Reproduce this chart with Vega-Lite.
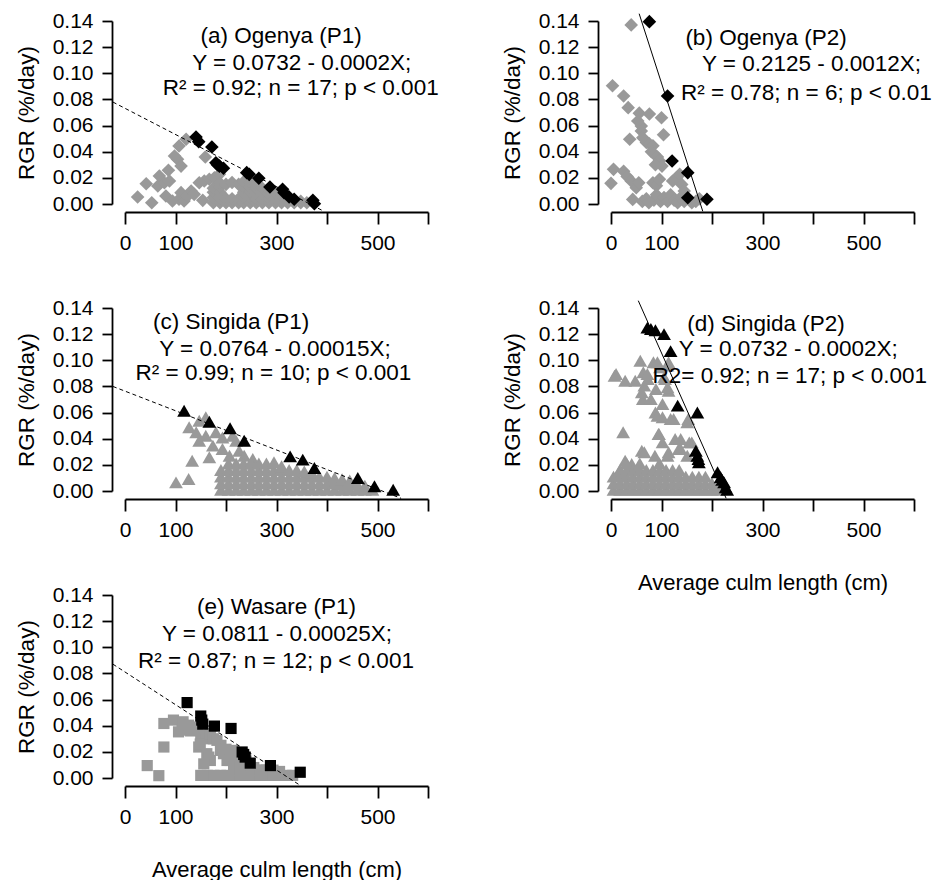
{
"$schema": "https://vega.github.io/schema/vega-lite/v6.json",
"padding": {"left": 15, "top": 10, "right": 0, "bottom": 0},
"background": "white",
"datasets": {
"pts": [
{"p":"a","g":"gray","x":25,"y":0.0054},{"p":"a","g":"gray","x":42,"y":0.0155},{"p":"a","g":"gray","x":53,"y":0.001},{"p":"a","g":"gray","x":65,"y":0.0138},{"p":"a","g":"gray","x":68,"y":0.0214},{"p":"a","g":"gray","x":78,"y":0.0163},{"p":"a","g":"gray","x":81,"y":0.0061},{"p":"a","g":"gray","x":86,"y":0.0258},{"p":"a","g":"gray","x":88,"y":0.0176},{"p":"a","g":"gray","x":94,"y":0.0023},{"p":"a","g":"gray","x":98,"y":0.0367},{"p":"a","g":"gray","x":104,"y":0.0342},{"p":"a","g":"gray","x":107,"y":0.0444},{"p":"a","g":"gray","x":111,"y":0.029},{"p":"a","g":"gray","x":107,"y":0.0036},{"p":"a","g":"gray","x":111,"y":0.0087},{"p":"a","g":"gray","x":117,"y":0.0023},{"p":"a","g":"gray","x":121,"y":0.0495},{"p":"a","g":"gray","x":124,"y":0.0061},{"p":"a","g":"gray","x":131,"y":0.0099},{"p":"a","g":"gray","x":137,"y":0.0074},{"p":"a","g":"gray","x":154,"y":0.0028},{"p":"a","g":"gray","x":159,"y":0.036},{"p":"a","g":"gray","x":147,"y":0.0163},{"p":"a","g":"gray","x":157,"y":0.0176},{"p":"a","g":"gray","x":167,"y":0.0189},{"p":"a","g":"gray","x":177,"y":0.0201},{"p":"a","g":"gray","x":187,"y":0.0227},
{"p":"a","g":"gray","x":175,"y":0.001},{"p":"a","g":"gray","x":175,"y":0.005},{"p":"a","g":"gray","x":175,"y":0.009},{"p":"a","g":"gray","x":175,"y":0.012},
{"p":"a","g":"gray","x":188,"y":0.001},{"p":"a","g":"gray","x":188,"y":0.005},{"p":"a","g":"gray","x":188,"y":0.009},{"p":"a","g":"gray","x":188,"y":0.013},{"p":"a","g":"gray","x":188,"y":0.016},
{"p":"a","g":"gray","x":200,"y":0.001},{"p":"a","g":"gray","x":200,"y":0.004},{"p":"a","g":"gray","x":200,"y":0.015},
{"p":"a","g":"gray","x":212,"y":0.001},{"p":"a","g":"gray","x":212,"y":0.004},{"p":"a","g":"gray","x":212,"y":0.0165},
{"p":"a","g":"gray","x":225,"y":0.001},{"p":"a","g":"gray","x":225,"y":0.004},{"p":"a","g":"gray","x":225,"y":0.015},
{"p":"a","g":"gray","x":235,"y":0.001},{"p":"a","g":"gray","x":235,"y":0.005},{"p":"a","g":"gray","x":235,"y":0.009},{"p":"a","g":"gray","x":235,"y":0.013},{"p":"a","g":"gray","x":235,"y":0.017},
{"p":"a","g":"gray","x":248,"y":0.001},{"p":"a","g":"gray","x":248,"y":0.005},{"p":"a","g":"gray","x":248,"y":0.009},{"p":"a","g":"gray","x":248,"y":0.013},{"p":"a","g":"gray","x":248,"y":0.016},
{"p":"a","g":"gray","x":260,"y":0.001},{"p":"a","g":"gray","x":260,"y":0.004},{"p":"a","g":"gray","x":260,"y":0.008},{"p":"a","g":"gray","x":260,"y":0.012},{"p":"a","g":"gray","x":260,"y":0.015},
{"p":"a","g":"gray","x":272,"y":0.001},{"p":"a","g":"gray","x":272,"y":0.004},{"p":"a","g":"gray","x":272,"y":0.008},{"p":"a","g":"gray","x":272,"y":0.012},
{"p":"a","g":"gray","x":285,"y":0.001},{"p":"a","g":"gray","x":285,"y":0.004},{"p":"a","g":"gray","x":285,"y":0.008},{"p":"a","g":"gray","x":285,"y":0.011},
{"p":"a","g":"gray","x":298,"y":0.001},{"p":"a","g":"gray","x":298,"y":0.004},{"p":"a","g":"gray","x":298,"y":0.008},
{"p":"a","g":"gray","x":310,"y":0.001},{"p":"a","g":"gray","x":310,"y":0.004},{"p":"a","g":"gray","x":310,"y":0.007},
{"p":"a","g":"gray","x":322,"y":0.001},{"p":"a","g":"gray","x":322,"y":0.004},
{"p":"a","g":"gray","x":335,"y":0.001},{"p":"a","g":"gray","x":335,"y":0.003},
{"p":"a","g":"gray","x":348,"y":0.001},{"p":"a","g":"gray","x":348,"y":0.002},
{"p":"a","g":"gray","x":360,"y":0.001},
{"p":"a","g":"black","x":140.6,"y":0.0513},{"p":"a","g":"black","x":146,"y":0.0477},{"p":"a","g":"black","x":172,"y":0.0436},{"p":"a","g":"black","x":180,"y":0.0316},{"p":"a","g":"black","x":183,"y":0.03},{"p":"a","g":"black","x":187,"y":0.029},{"p":"a","g":"black","x":195,"y":0.0273},{"p":"a","g":"black","x":241,"y":0.024},{"p":"a","g":"black","x":246,"y":0.0227},{"p":"a","g":"black","x":265,"y":0.0197},{"p":"a","g":"black","x":287,"y":0.013},{"p":"a","g":"black","x":312,"y":0.0112},{"p":"a","g":"black","x":315,"y":0.0087},{"p":"a","g":"black","x":325,"y":0.0054},{"p":"a","g":"black","x":335,"y":0.0036},{"p":"a","g":"black","x":372,"y":0.0028},{"p":"a","g":"black","x":375,"y":0.0002},

{"p":"b","g":"gray","x":40,"y":0.137},{"p":"b","g":"gray","x":3,"y":0.0905},{"p":"b","g":"gray","x":25,"y":0.0826},{"p":"b","g":"gray","x":34,"y":0.0737},{"p":"b","g":"gray","x":56,"y":0.0695},{"p":"b","g":"gray","x":76,"y":0.0688},{"p":"b","g":"gray","x":100,"y":0.066},{"p":"b","g":"gray","x":53,"y":0.0635},{"p":"b","g":"gray","x":60,"y":0.0597},{"p":"b","g":"gray","x":104,"y":0.053},{"p":"b","g":"gray","x":60,"y":0.0558},{"p":"b","g":"gray","x":63,"y":0.0507},{"p":"b","g":"gray","x":37,"y":0.0495},{"p":"b","g":"gray","x":70,"y":0.047},{"p":"b","g":"gray","x":76,"y":0.046},{"p":"b","g":"gray","x":83,"y":0.0445},{"p":"b","g":"gray","x":80,"y":0.04},{"p":"b","g":"gray","x":86,"y":0.038},{"p":"b","g":"gray","x":92,"y":0.036},{"p":"b","g":"gray","x":96,"y":0.033},{"p":"b","g":"gray","x":101,"y":0.029},{"p":"b","g":"gray","x":88,"y":0.03},{"p":"b","g":"gray","x":5,"y":0.0265},{"p":"b","g":"gray","x":0,"y":0.0158},{"p":"b","g":"gray","x":25,"y":0.025},{"p":"b","g":"gray","x":32,"y":0.021},{"p":"b","g":"gray","x":40,"y":0.0176},{"p":"b","g":"gray","x":50,"y":0.0125},{"p":"b","g":"gray","x":55,"y":0.0163},{"p":"b","g":"gray","x":83,"y":0.0163},{"p":"b","g":"gray","x":90,"y":0.014},{"p":"b","g":"gray","x":96,"y":0.0189},{"p":"b","g":"gray","x":122,"y":0.0176},{"p":"b","g":"gray","x":130,"y":0.02},{"p":"b","g":"gray","x":136,"y":0.0227},{"p":"b","g":"gray","x":140,"y":0.015},{"p":"b","g":"gray","x":145,"y":0.01},{"p":"b","g":"gray","x":43,"y":0.0035},
{"p":"b","g":"gray","x":62,"y":0.002},{"p":"b","g":"gray","x":70,"y":0.004},{"p":"b","g":"gray","x":75,"y":0.001},{"p":"b","g":"gray","x":85,"y":0.003},{"p":"b","g":"gray","x":90,"y":0.007},{"p":"b","g":"gray","x":98,"y":0.002},{"p":"b","g":"gray","x":105,"y":0.005},{"p":"b","g":"gray","x":112,"y":0.002},{"p":"b","g":"gray","x":118,"y":0.007},{"p":"b","g":"gray","x":125,"y":0.003},{"p":"b","g":"gray","x":132,"y":0.001},{"p":"b","g":"gray","x":138,"y":0.005},{"p":"b","g":"gray","x":145,"y":0.002},{"p":"b","g":"gray","x":160,"y":0.001},{"p":"b","g":"gray","x":168,"y":0.002},{"p":"b","g":"gray","x":175,"y":0.004},
{"p":"b","g":"black","x":76,"y":0.1395},{"p":"b","g":"black","x":112,"y":0.0826},{"p":"b","g":"black","x":121,"y":0.0329},{"p":"b","g":"black","x":152,"y":0.024},{"p":"b","g":"black","x":152,"y":0.0048},{"p":"b","g":"black","x":190,"y":0.0036},

{"p":"c","g":"gray","x":101,"y":0.0066},{"p":"c","g":"gray","x":126,"y":0.0092},{"p":"c","g":"gray","x":133,"y":0.0232},{"p":"c","g":"gray","x":127,"y":0.0487},{"p":"c","g":"gray","x":147,"y":0.0538},{"p":"c","g":"gray","x":160,"y":0.0564},{"p":"c","g":"gray","x":141,"y":0.0449},{"p":"c","g":"gray","x":160,"y":0.0423},{"p":"c","g":"gray","x":180,"y":0.0449},{"p":"c","g":"gray","x":193,"y":0.041},{"p":"c","g":"gray","x":213,"y":0.0423},{"p":"c","g":"gray","x":220,"y":0.0385},{"p":"c","g":"gray","x":147,"y":0.0385},{"p":"c","g":"gray","x":174,"y":0.0347},{"p":"c","g":"gray","x":167,"y":0.0258},{"p":"c","g":"gray","x":193,"y":0.0321},{"p":"c","g":"gray","x":207,"y":0.027},{"p":"c","g":"gray","x":226,"y":0.0308},{"p":"c","g":"gray","x":236,"y":0.027},{"p":"c","g":"gray","x":253,"y":0.0245},
{"p":"c","g":"gray","x":190,"y":0.001},{"p":"c","g":"gray","x":190,"y":0.006},{"p":"c","g":"gray","x":190,"y":0.011},{"p":"c","g":"gray","x":190,"y":0.016},
{"p":"c","g":"gray","x":205,"y":0.001},{"p":"c","g":"gray","x":205,"y":0.006},{"p":"c","g":"gray","x":205,"y":0.011},{"p":"c","g":"gray","x":205,"y":0.016},{"p":"c","g":"gray","x":205,"y":0.021},
{"p":"c","g":"gray","x":220,"y":0.001},{"p":"c","g":"gray","x":220,"y":0.006},{"p":"c","g":"gray","x":220,"y":0.011},{"p":"c","g":"gray","x":220,"y":0.016},{"p":"c","g":"gray","x":220,"y":0.021},
{"p":"c","g":"gray","x":235,"y":0.001},{"p":"c","g":"gray","x":235,"y":0.006},{"p":"c","g":"gray","x":235,"y":0.011},{"p":"c","g":"gray","x":235,"y":0.016},{"p":"c","g":"gray","x":235,"y":0.021},
{"p":"c","g":"gray","x":250,"y":0.001},{"p":"c","g":"gray","x":250,"y":0.006},{"p":"c","g":"gray","x":250,"y":0.011},{"p":"c","g":"gray","x":250,"y":0.016},{"p":"c","g":"gray","x":250,"y":0.021},
{"p":"c","g":"gray","x":265,"y":0.001},{"p":"c","g":"gray","x":265,"y":0.006},{"p":"c","g":"gray","x":265,"y":0.011},{"p":"c","g":"gray","x":265,"y":0.016},{"p":"c","g":"gray","x":265,"y":0.021},
{"p":"c","g":"gray","x":280,"y":0.001},{"p":"c","g":"gray","x":280,"y":0.006},{"p":"c","g":"gray","x":280,"y":0.011},{"p":"c","g":"gray","x":280,"y":0.016},{"p":"c","g":"gray","x":280,"y":0.021},
{"p":"c","g":"gray","x":295,"y":0.001},{"p":"c","g":"gray","x":295,"y":0.006},{"p":"c","g":"gray","x":295,"y":0.011},{"p":"c","g":"gray","x":295,"y":0.016},{"p":"c","g":"gray","x":295,"y":0.022},
{"p":"c","g":"gray","x":310,"y":0.001},{"p":"c","g":"gray","x":310,"y":0.006},{"p":"c","g":"gray","x":310,"y":0.011},{"p":"c","g":"gray","x":310,"y":0.016},{"p":"c","g":"gray","x":310,"y":0.019},
{"p":"c","g":"gray","x":325,"y":0.001},{"p":"c","g":"gray","x":325,"y":0.006},{"p":"c","g":"gray","x":325,"y":0.011},{"p":"c","g":"gray","x":325,"y":0.016},
{"p":"c","g":"gray","x":340,"y":0.001},{"p":"c","g":"gray","x":340,"y":0.006},{"p":"c","g":"gray","x":340,"y":0.011},{"p":"c","g":"gray","x":340,"y":0.016},
{"p":"c","g":"gray","x":355,"y":0.001},{"p":"c","g":"gray","x":355,"y":0.006},{"p":"c","g":"gray","x":355,"y":0.011},{"p":"c","g":"gray","x":355,"y":0.015},
{"p":"c","g":"gray","x":370,"y":0.001},{"p":"c","g":"gray","x":370,"y":0.006},{"p":"c","g":"gray","x":370,"y":0.011},{"p":"c","g":"gray","x":370,"y":0.014},
{"p":"c","g":"gray","x":385,"y":0.001},{"p":"c","g":"gray","x":385,"y":0.006},{"p":"c","g":"gray","x":385,"y":0.011},
{"p":"c","g":"gray","x":400,"y":0.001},{"p":"c","g":"gray","x":400,"y":0.006},{"p":"c","g":"gray","x":400,"y":0.011},
{"p":"c","g":"gray","x":415,"y":0.001},{"p":"c","g":"gray","x":415,"y":0.006},{"p":"c","g":"gray","x":415,"y":0.01},
{"p":"c","g":"gray","x":430,"y":0.001},{"p":"c","g":"gray","x":430,"y":0.005},{"p":"c","g":"gray","x":430,"y":0.009},
{"p":"c","g":"gray","x":445,"y":0.001},{"p":"c","g":"gray","x":445,"y":0.005},{"p":"c","g":"gray","x":445,"y":0.008},
{"p":"c","g":"gray","x":460,"y":0.001},{"p":"c","g":"gray","x":460,"y":0.005},
{"p":"c","g":"gray","x":475,"y":0.001},{"p":"c","g":"gray","x":475,"y":0.004},
{"p":"c","g":"gray","x":490,"y":0.001},
{"p":"c","g":"black","x":117,"y":0.0614},{"p":"c","g":"black","x":167,"y":0.053},{"p":"c","g":"black","x":208,"y":0.048},{"p":"c","g":"black","x":236,"y":0.0385},{"p":"c","g":"black","x":327,"y":0.0265},{"p":"c","g":"black","x":352,"y":0.024},{"p":"c","g":"black","x":375,"y":0.0176},{"p":"c","g":"black","x":461,"y":0.01},{"p":"c","g":"black","x":494,"y":0.0036},{"p":"c","g":"black","x":531,"y":0.001},

{"p":"d","g":"gray","x":7,"y":0.0882},{"p":"d","g":"gray","x":28,"y":0.0844},{"p":"d","g":"gray","x":48,"y":0.0844},{"p":"d","g":"gray","x":58,"y":0.0997},{"p":"d","g":"gray","x":64,"y":0.0908},{"p":"d","g":"gray","x":73,"y":0.0857},{"p":"d","g":"gray","x":63,"y":0.0704},{"p":"d","g":"gray","x":61,"y":0.0755},{"p":"d","g":"gray","x":84,"y":0.0985},{"p":"d","g":"gray","x":97,"y":0.0946},{"p":"d","g":"gray","x":114,"y":0.0985},{"p":"d","g":"gray","x":107,"y":0.0857},{"p":"d","g":"gray","x":114,"y":0.0767},{"p":"d","g":"gray","x":102,"y":0.0666},{"p":"d","g":"gray","x":88,"y":0.06},{"p":"d","g":"gray","x":102,"y":0.0564},{"p":"d","g":"gray","x":124,"y":0.0551},{"p":"d","g":"gray","x":153,"y":0.0551},{"p":"d","g":"gray","x":24,"y":0.0449},{"p":"d","g":"gray","x":61,"y":0.0308},{"p":"d","g":"gray","x":94,"y":0.0436},{"p":"d","g":"gray","x":102,"y":0.0372},{"p":"d","g":"gray","x":127,"y":0.0398},{"p":"d","g":"gray","x":160,"y":0.0372},{"p":"d","g":"gray","x":87,"y":0.027},{"p":"d","g":"gray","x":114,"y":0.0296},{"p":"d","g":"gray","x":134,"y":0.0321},{"p":"d","g":"gray","x":28,"y":0.0232},{"p":"d","g":"gray","x":41,"y":0.0207},{"p":"d","g":"gray","x":15,"y":0.0143},{"p":"d","g":"gray","x":10,"y":0.0895},{"p":"d","g":"gray","x":72,"y":0.0895},{"p":"d","g":"gray","x":66,"y":0.0806},{"p":"d","g":"gray","x":92,"y":0.0985},{"p":"d","g":"gray","x":112,"y":0.0959},{"p":"d","g":"gray","x":105,"y":0.087},{"p":"d","g":"gray","x":89,"y":0.078},{"p":"d","g":"gray","x":112,"y":0.0793},{"p":"d","g":"gray","x":79,"y":0.0704},{"p":"d","g":"gray","x":92,"y":0.0576},{"p":"d","g":"gray","x":118,"y":0.0551},{"p":"d","g":"gray","x":151,"y":0.0525},{"p":"d","g":"gray","x":95,"y":0.0436},{"p":"d","g":"gray","x":138,"y":0.0398},{"p":"d","g":"gray","x":155,"y":0.0372},{"p":"d","g":"gray","x":66,"y":0.0296},{"p":"d","g":"gray","x":112,"y":0.027},{"p":"d","g":"gray","x":138,"y":0.0321},{"p":"d","g":"gray","x":151,"y":0.027},
{"p":"d","g":"gray","x":5,"y":0.001},{"p":"d","g":"gray","x":5,"y":0.006},{"p":"d","g":"gray","x":5,"y":0.011},
{"p":"d","g":"gray","x":18,"y":0.001},{"p":"d","g":"gray","x":18,"y":0.006},{"p":"d","g":"gray","x":18,"y":0.011},{"p":"d","g":"gray","x":18,"y":0.016},
{"p":"d","g":"gray","x":31,"y":0.001},{"p":"d","g":"gray","x":31,"y":0.006},{"p":"d","g":"gray","x":31,"y":0.011},{"p":"d","g":"gray","x":31,"y":0.016},{"p":"d","g":"gray","x":31,"y":0.021},
{"p":"d","g":"gray","x":44,"y":0.001},{"p":"d","g":"gray","x":44,"y":0.006},{"p":"d","g":"gray","x":44,"y":0.011},{"p":"d","g":"gray","x":44,"y":0.016},
{"p":"d","g":"gray","x":57,"y":0.001},{"p":"d","g":"gray","x":57,"y":0.006},{"p":"d","g":"gray","x":57,"y":0.011},{"p":"d","g":"gray","x":57,"y":0.016},{"p":"d","g":"gray","x":57,"y":0.021},
{"p":"d","g":"gray","x":70,"y":0.001},{"p":"d","g":"gray","x":70,"y":0.006},{"p":"d","g":"gray","x":70,"y":0.011},{"p":"d","g":"gray","x":70,"y":0.016},
{"p":"d","g":"gray","x":83,"y":0.001},{"p":"d","g":"gray","x":83,"y":0.006},{"p":"d","g":"gray","x":83,"y":0.011},{"p":"d","g":"gray","x":83,"y":0.016},
{"p":"d","g":"gray","x":96,"y":0.001},{"p":"d","g":"gray","x":96,"y":0.006},{"p":"d","g":"gray","x":96,"y":0.011},{"p":"d","g":"gray","x":96,"y":0.016},{"p":"d","g":"gray","x":96,"y":0.021},
{"p":"d","g":"gray","x":109,"y":0.001},{"p":"d","g":"gray","x":109,"y":0.006},{"p":"d","g":"gray","x":109,"y":0.011},{"p":"d","g":"gray","x":109,"y":0.016},
{"p":"d","g":"gray","x":122,"y":0.001},{"p":"d","g":"gray","x":122,"y":0.006},{"p":"d","g":"gray","x":122,"y":0.011},{"p":"d","g":"gray","x":122,"y":0.016},
{"p":"d","g":"gray","x":135,"y":0.001},{"p":"d","g":"gray","x":135,"y":0.006},{"p":"d","g":"gray","x":135,"y":0.011},{"p":"d","g":"gray","x":135,"y":0.016},
{"p":"d","g":"gray","x":148,"y":0.001},{"p":"d","g":"gray","x":148,"y":0.006},{"p":"d","g":"gray","x":148,"y":0.011},
{"p":"d","g":"gray","x":161,"y":0.001},{"p":"d","g":"gray","x":161,"y":0.006},{"p":"d","g":"gray","x":161,"y":0.011},
{"p":"d","g":"gray","x":174,"y":0.001},{"p":"d","g":"gray","x":174,"y":0.006},{"p":"d","g":"gray","x":174,"y":0.011},
{"p":"d","g":"gray","x":187,"y":0.001},{"p":"d","g":"gray","x":187,"y":0.006},{"p":"d","g":"gray","x":187,"y":0.011},
{"p":"d","g":"gray","x":200,"y":0.001},{"p":"d","g":"gray","x":200,"y":0.006},
{"p":"d","g":"gray","x":213,"y":0.001},{"p":"d","g":"gray","x":213,"y":0.003},
{"p":"d","g":"black","x":72,"y":0.125},{"p":"d","g":"black","x":79,"y":0.124},{"p":"d","g":"black","x":88,"y":0.123},{"p":"d","g":"black","x":105,"y":0.12},{"p":"d","g":"black","x":118,"y":0.107},{"p":"d","g":"black","x":132,"y":0.0653},{"p":"d","g":"black","x":171,"y":0.06},{"p":"d","g":"black","x":168,"y":0.0308},{"p":"d","g":"black","x":171,"y":0.027},{"p":"d","g":"black","x":173,"y":0.0245},{"p":"d","g":"black","x":174,"y":0.022},{"p":"d","g":"black","x":211,"y":0.0143},{"p":"d","g":"black","x":217,"y":0.0105},{"p":"d","g":"black","x":220,"y":0.0085},{"p":"d","g":"black","x":224,"y":0.0066},{"p":"d","g":"black","x":227,"y":0.0028},{"p":"d","g":"black","x":230,"y":0.001},

{"p":"e","g":"gray","x":44,"y":0.0095},{"p":"e","g":"gray","x":67,"y":0.0018},{"p":"e","g":"gray","x":77,"y":0.0237},{"p":"e","g":"gray","x":77,"y":0.0417},{"p":"e","g":"gray","x":96,"y":0.0443},{"p":"e","g":"gray","x":106,"y":0.0353},{"p":"e","g":"gray","x":113,"y":0.0366},{"p":"e","g":"gray","x":115,"y":0.043},{"p":"e","g":"gray","x":126,"y":0.0404},{"p":"e","g":"gray","x":130,"y":0.036},{"p":"e","g":"gray","x":143,"y":0.039},{"p":"e","g":"gray","x":150,"y":0.033},{"p":"e","g":"gray","x":160,"y":0.03},{"p":"e","g":"gray","x":146,"y":0.0237},{"p":"e","g":"gray","x":149,"y":0.026},{"p":"e","g":"gray","x":169,"y":0.034},{"p":"e","g":"gray","x":175,"y":0.03},{"p":"e","g":"gray","x":182,"y":0.0288},{"p":"e","g":"gray","x":190,"y":0.025},{"p":"e","g":"gray","x":200,"y":0.022},{"p":"e","g":"gray","x":162,"y":0.0186},{"p":"e","g":"gray","x":169,"y":0.0134},{"p":"e","g":"gray","x":166,"y":0.016},{"p":"e","g":"gray","x":189,"y":0.0211},{"p":"e","g":"gray","x":195,"y":0.0186},{"p":"e","g":"gray","x":202,"y":0.0134},{"p":"e","g":"gray","x":208,"y":0.0134},{"p":"e","g":"gray","x":215,"y":0.0211},{"p":"e","g":"gray","x":156,"y":0.0108},{"p":"e","g":"gray","x":222,"y":0.016},{"p":"e","g":"gray","x":240,"y":0.013},{"p":"e","g":"gray","x":255,"y":0.008},{"p":"e","g":"gray","x":270,"y":0.006},{"p":"e","g":"gray","x":285,"y":0.004},
{"p":"e","g":"gray","x":150,"y":0.002},{"p":"e","g":"gray","x":163,"y":0.002},{"p":"e","g":"gray","x":176,"y":0.002},{"p":"e","g":"gray","x":189,"y":0.002},{"p":"e","g":"gray","x":202,"y":0.002},{"p":"e","g":"gray","x":215,"y":0.002},{"p":"e","g":"gray","x":228,"y":0.002},{"p":"e","g":"gray","x":241,"y":0.002},{"p":"e","g":"gray","x":254,"y":0.002},{"p":"e","g":"gray","x":267,"y":0.002},{"p":"e","g":"gray","x":280,"y":0.002},{"p":"e","g":"gray","x":293,"y":0.002},{"p":"e","g":"gray","x":306,"y":0.002},{"p":"e","g":"gray","x":319,"y":0.002},{"p":"e","g":"gray","x":332,"y":0.002},
{"p":"e","g":"gray","x":215,"y":0.006},{"p":"e","g":"gray","x":228,"y":0.006},{"p":"e","g":"gray","x":241,"y":0.006},{"p":"e","g":"gray","x":254,"y":0.006},{"p":"e","g":"gray","x":267,"y":0.006},{"p":"e","g":"gray","x":280,"y":0.006},{"p":"e","g":"gray","x":293,"y":0.006},{"p":"e","g":"gray","x":306,"y":0.005},{"p":"e","g":"gray","x":215,"y":0.009},{"p":"e","g":"gray","x":228,"y":0.009},
{"p":"e","g":"black","x":123,"y":0.0577},{"p":"e","g":"black","x":150,"y":0.0474},{"p":"e","g":"black","x":152,"y":0.0443},{"p":"e","g":"black","x":154,"y":0.0412},{"p":"e","g":"black","x":177,"y":0.0397},{"p":"e","g":"black","x":210,"y":0.0379},{"p":"e","g":"black","x":232,"y":0.0199},{"p":"e","g":"black","x":235,"y":0.018},{"p":"e","g":"black","x":238,"y":0.016},{"p":"e","g":"black","x":248,"y":0.0114},{"p":"e","g":"black","x":288,"y":0.0095},{"p":"e","g":"black","x":347,"y":0.0044}
],
"lines": [
{"p":"a","x":-24,"y":0.078},{"p":"a","x":394,"y":-0.0056},
{"p":"b","x":55.75,"y":0.1456},{"p":"b","x":181.75,"y":-0.0056},
{"p":"c","x":-24,"y":0.08},{"p":"c","x":546.7,"y":-0.0056},
{"p":"d","x":54,"y":0.1456},{"p":"d","x":228,"y":-0.0056},
{"p":"e","x":-24,"y":0.0871},{"p":"e","x":346.8,"y":-0.0056}
],
"texts": [
{"p":"a","x":309,"y":0.1285,"t":"(a) Ogenya (P1)"},{"p":"a","x":350,"y":0.108,"t":"Y = 0.0732 - 0.0002X;"},{"p":"a","x":348,"y":0.089,"t":"R² = 0.92; n = 17; p < 0.001"},
{"p":"b","x":307,"y":0.127,"t":"(b) Ogenya (P2)"},{"p":"b","x":397,"y":0.107,"t":"Y = 0.2125 - 0.0012X;"},{"p":"b","x":387,"y":0.085,"t":"R² = 0.78; n = 6; p < 0.01"},
{"p":"c","x":210,"y":0.129,"t":"(c) Singida (P1)"},{"p":"c","x":297,"y":0.1086,"t":"Y = 0.0764 - 0.00015X;"},{"p":"c","x":294,"y":0.09,"t":"R² = 0.99; n = 10; p < 0.001"},
{"p":"d","x":307,"y":0.128,"t":"(d) Singida (P2)"},{"p":"d","x":351,"y":0.1086,"t":"Y = 0.0732 - 0.0002X;"},{"p":"d","x":354,"y":0.088,"t":"R2= 0.92; n = 17; p < 0.001"},
{"p":"e","x":300,"y":0.131,"t":"(e) Wasare (P1)"},{"p":"e","x":301,"y":0.11,"t":"Y = 0.0811 - 0.00025X;"},{"p":"e","x":299,"y":0.0894,"t":"R² = 0.87; n = 12; p < 0.001"}
]
},
"columns": 2,
"spacing": {"row": 104, "column": 183},
"bounds": "flush",
"concat": [
{"width":303,"height":183,
 "encoding":{"x":{"field":"x","type":"quantitative","scale":{"domain":[0,600],"nice":false,"zero":false},"axis":{"values":[0,100,200,300,400,500,600],"labelExpr":"(datum.value==200||datum.value==400||datum.value==600)?'':datum.label","offset":8,"tickSize":12,"labelPadding":8,"labelFontSize":21,"title":null,"labelFlush":false,"labelOverlap":false,"labelBound":false}},
 "y":{"field":"y","type":"quantitative","scale":{"domain":[0,0.14],"nice":false,"zero":false},"axis":{"values":[0,0.02,0.04,0.06,0.08,0.1,0.12,0.14],"format":".2f","offset":13,"tickSize":10,"labelPadding":9,"labelFontSize":21,"title":"RGR (%/day)","titlePadding":14,"titleFontSize":22.5,"labelFlush":false,"labelOverlap":false}}},
 "layer":[
  {"data":{"name":"pts"},"transform":[{"filter":"datum.p=='a'"}],"mark":{"type":"point","shape":"diamond","filled":true,"size":185,"opacity":1,"strokeWidth":0},"encoding":{"color":{"field":"g","type":"nominal","scale":{"domain":["gray","black"],"range":["#999999","#000000"]},"legend":null}}},
  {"data":{"name":"lines"},"transform":[{"filter":"datum.p=='a'"}],"mark":{"type":"line","color":"#000000","strokeWidth":1,"strokeDash":[4,3]},"encoding":{}},
  {"data":{"name":"texts"},"transform":[{"filter":"datum.p=='a'"}],"mark":{"type":"text","fontSize":22.5,"font":"Liberation Sans","color":"#000000","align":"center","baseline":"middle"},"encoding":{"text":{"field":"t","type":"nominal"}}}
 ]},
{"width":303,"height":183,
 "encoding":{"x":{"field":"x","type":"quantitative","scale":{"domain":[0,600],"nice":false,"zero":false},"axis":{"values":[0,100,200,300,400,500,600],"labelExpr":"(datum.value==200||datum.value==400||datum.value==600)?'':datum.label","offset":8,"tickSize":12,"labelPadding":8,"labelFontSize":21,"title":null,"labelFlush":false,"labelOverlap":false,"labelBound":false}},
 "y":{"field":"y","type":"quantitative","scale":{"domain":[0,0.14],"nice":false,"zero":false},"axis":{"values":[0,0.02,0.04,0.06,0.08,0.1,0.12,0.14],"format":".2f","offset":13,"tickSize":10,"labelPadding":9,"labelFontSize":21,"title":"RGR (%/day)","titlePadding":14,"titleFontSize":22.5,"labelFlush":false,"labelOverlap":false}}},
 "layer":[
  {"data":{"name":"pts"},"transform":[{"filter":"datum.p=='b'"}],"mark":{"type":"point","shape":"diamond","filled":true,"size":185,"opacity":1,"strokeWidth":0},"encoding":{"color":{"field":"g","type":"nominal","scale":{"domain":["gray","black"],"range":["#999999","#000000"]},"legend":null}}},
  {"data":{"name":"lines"},"transform":[{"filter":"datum.p=='b'"}],"mark":{"type":"line","color":"#000000","strokeWidth":1},"encoding":{}},
  {"data":{"name":"texts"},"transform":[{"filter":"datum.p=='b'"}],"mark":{"type":"text","fontSize":22.5,"font":"Liberation Sans","color":"#000000","align":"center","baseline":"middle"},"encoding":{"text":{"field":"t","type":"nominal"}}}
 ]},
{"width":303,"height":183,
 "encoding":{"x":{"field":"x","type":"quantitative","scale":{"domain":[0,600],"nice":false,"zero":false},"axis":{"values":[0,100,200,300,400,500,600],"labelExpr":"(datum.value==200||datum.value==400||datum.value==600)?'':datum.label","offset":8,"tickSize":12,"labelPadding":8,"labelFontSize":21,"title":null,"labelFlush":false,"labelOverlap":false,"labelBound":false}},
 "y":{"field":"y","type":"quantitative","scale":{"domain":[0,0.14],"nice":false,"zero":false},"axis":{"values":[0,0.02,0.04,0.06,0.08,0.1,0.12,0.14],"format":".2f","offset":13,"tickSize":10,"labelPadding":9,"labelFontSize":21,"title":"RGR (%/day)","titlePadding":14,"titleFontSize":22.5,"labelFlush":false,"labelOverlap":false}}},
 "layer":[
  {"data":{"name":"pts"},"transform":[{"filter":"datum.p=='c'"}],"mark":{"type":"point","shape":"triangle-up","filled":true,"size":190,"opacity":1,"strokeWidth":0},"encoding":{"color":{"field":"g","type":"nominal","scale":{"domain":["gray","black"],"range":["#999999","#000000"]},"legend":null}}},
  {"data":{"name":"lines"},"transform":[{"filter":"datum.p=='c'"}],"mark":{"type":"line","color":"#000000","strokeWidth":1,"strokeDash":[4,3]},"encoding":{}},
  {"data":{"name":"texts"},"transform":[{"filter":"datum.p=='c'"}],"mark":{"type":"text","fontSize":22.5,"font":"Liberation Sans","color":"#000000","align":"center","baseline":"middle"},"encoding":{"text":{"field":"t","type":"nominal"}}}
 ]},
{"width":303,"height":183,
 "encoding":{"x":{"field":"x","type":"quantitative","scale":{"domain":[0,600],"nice":false,"zero":false},"axis":{"values":[0,100,200,300,400,500,600],"labelExpr":"(datum.value==200||datum.value==400||datum.value==600)?'':datum.label","offset":8,"tickSize":12,"labelPadding":8,"labelFontSize":21,"title":"Average culm length (cm)","titlePadding":32,"titleFontSize":22,"labelFlush":false,"labelOverlap":false,"labelBound":false}},
 "y":{"field":"y","type":"quantitative","scale":{"domain":[0,0.14],"nice":false,"zero":false},"axis":{"values":[0,0.02,0.04,0.06,0.08,0.1,0.12,0.14],"format":".2f","offset":13,"tickSize":10,"labelPadding":9,"labelFontSize":21,"title":"RGR (%/day)","titlePadding":14,"titleFontSize":22.5,"labelFlush":false,"labelOverlap":false}}},
 "layer":[
  {"data":{"name":"pts"},"transform":[{"filter":"datum.p=='d'"}],"mark":{"type":"point","shape":"triangle-up","filled":true,"size":190,"opacity":1,"strokeWidth":0},"encoding":{"color":{"field":"g","type":"nominal","scale":{"domain":["gray","black"],"range":["#999999","#000000"]},"legend":null}}},
  {"data":{"name":"lines"},"transform":[{"filter":"datum.p=='d'"}],"mark":{"type":"line","color":"#000000","strokeWidth":1},"encoding":{}},
  {"data":{"name":"texts"},"transform":[{"filter":"datum.p=='d'"}],"mark":{"type":"text","fontSize":22.5,"font":"Liberation Sans","color":"#000000","align":"center","baseline":"middle"},"encoding":{"text":{"field":"t","type":"nominal"}}}
 ]},
{"width":303,"height":183,
 "encoding":{"x":{"field":"x","type":"quantitative","scale":{"domain":[0,600],"nice":false,"zero":false},"axis":{"values":[0,100,200,300,400,500,600],"labelExpr":"(datum.value==200||datum.value==400||datum.value==600)?'':datum.label","offset":8,"tickSize":12,"labelPadding":8,"labelFontSize":21,"title":"Average culm length (cm)","titlePadding":32,"titleFontSize":22,"labelFlush":false,"labelOverlap":false,"labelBound":false}},
 "y":{"field":"y","type":"quantitative","scale":{"domain":[0,0.14],"nice":false,"zero":false},"axis":{"values":[0,0.02,0.04,0.06,0.08,0.1,0.12,0.14],"format":".2f","offset":13,"tickSize":10,"labelPadding":9,"labelFontSize":21,"title":"RGR (%/day)","titlePadding":14,"titleFontSize":22.5,"labelFlush":false,"labelOverlap":false}}},
 "layer":[
  {"data":{"name":"pts"},"transform":[{"filter":"datum.p=='e'"}],"mark":{"type":"point","shape":"square","filled":true,"size":125,"opacity":1,"strokeWidth":0},"encoding":{"color":{"field":"g","type":"nominal","scale":{"domain":["gray","black"],"range":["#999999","#000000"]},"legend":null}}},
  {"data":{"name":"lines"},"transform":[{"filter":"datum.p=='e'"}],"mark":{"type":"line","color":"#000000","strokeWidth":1,"strokeDash":[4,3]},"encoding":{}},
  {"data":{"name":"texts"},"transform":[{"filter":"datum.p=='e'"}],"mark":{"type":"text","fontSize":22.5,"font":"Liberation Sans","color":"#000000","align":"center","baseline":"middle"},"encoding":{"text":{"field":"t","type":"nominal"}}}
 ]}
],
"config": {
 "view": {"stroke": null},
 "axis": {"labelFont":"Liberation Sans","titleFont":"Liberation Sans","labelColor":"#000000","titleColor":"#000000","domainColor":"#000000","tickColor":"#000000","grid":false,"domainWidth":1.8,"tickWidth":1.8,"titleFontWeight":"normal"},
 "text": {"font":"Liberation Sans"}
}
}
